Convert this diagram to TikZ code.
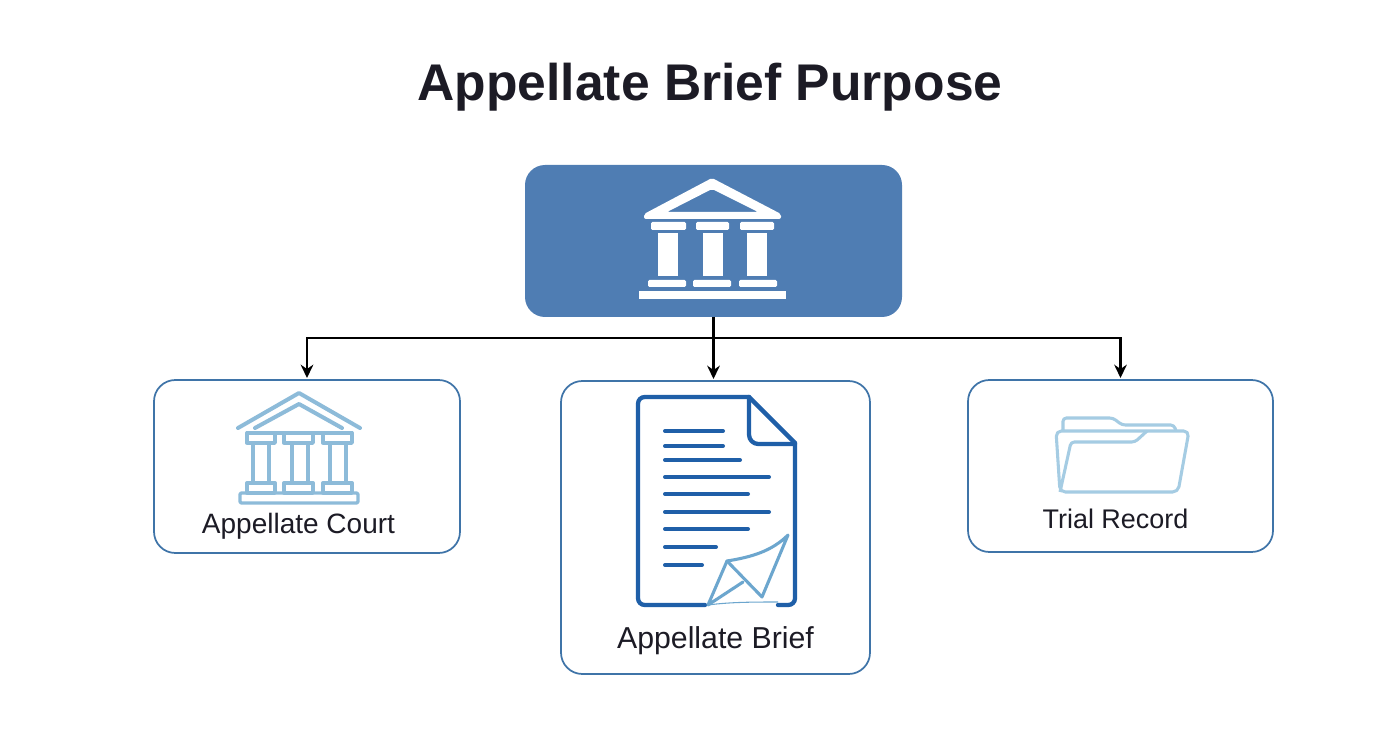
\documentclass[tikz,border=0pt]{standalone}
\usepackage{fontspec}
\setmainfont{Liberation Sans}
\usetikzlibrary{arrows.meta}
\definecolor{titleink}{HTML}{1C1B25}
\definecolor{topblue}{HTML}{4F7DB3}
\definecolor{boxline}{HTML}{3F74A8}
\definecolor{courtblue}{HTML}{8DBBD9}
\definecolor{docblue}{HTML}{1F5FA8}
\definecolor{penblue}{HTML}{6CA6CE}
\definecolor{folderblue}{HTML}{A5CCE3}
\tikzset{
  card/.style={draw=boxline,line width=1.3pt,fill=white,rounded corners=16pt,inner sep=0pt,outer sep=0pt},
  topcard/.style={fill=topblue,rounded corners=15pt,inner sep=0pt,outer sep=0pt},
  label/.style={inner sep=0pt,text=titleink},
  link/.style={line width=1.6pt,black},
  arrowlink/.style={link,-{Stealth[length=10pt,width=9.5pt]},shorten >=1.5pt},
  court/.style={draw=courtblue,line width=2.5pt,line join=round},
  docline/.style={draw=docblue,line width=3pt,line cap=round},
  pen/.style={draw=penblue,line width=2.3pt,line join=round,line cap=round},
  folder/.style={draw=folderblue,line width=2.3pt,line join=round,rounded corners=2.5pt}
}
\begin{document}
\begin{tikzpicture}[x=0.75pt,y=-0.75pt]
\useasboundingbox (0,0) rectangle (1392,752);
\node[inner sep=0pt,font=\fontsize{38.7}{44}\selectfont\bfseries,text=titleink] (title) at (710,87) {Appellate Brief Purpose};
\node[topcard,minimum width=377*0.75pt,minimum height=152*0.75pt] (top) at (713.5,241) {};
\node[card,minimum width=306*0.75pt,minimum height=173*0.75pt] (left) at (307,466.5) {};
\node[card,minimum width=309*0.75pt,minimum height=293*0.75pt] (mid) at (715.5,527.5) {};
\node[card,minimum width=305*0.75pt,minimum height=172*0.75pt] (right) at (1120.5,466) {};
\coordinate (bus) at (713.5,338);
\draw[link] (top.south) -- (bus);
\draw[arrowlink] (bus) -| (left.north);
\draw[arrowlink] (bus) -| (right.north);
\draw[arrowlink] (bus) -- (bus |- mid.north);
% top icon
\fill[white,even odd rule,rounded corners=1.5pt] (712,178) -- (781,214) -- (781,219) -- (644,219) -- (644,214) -- cycle (712,189) -- (667,212) -- (758,212) -- cycle;
\foreach \a/\b in {651/686,696/729,740/774}{\fill[white,rounded corners=1pt] (\a,222) rectangle (\b,230);}
\foreach \a/\b in {658/678,703/723,747/767}{\fill[white] (\a,233) rectangle (\b,276);}
\foreach \a/\b in {648/686,693/731,739/777}{\fill[white,rounded corners=1pt] (\a,280) rectangle (\b,287);}
\fill[white] (639,291) rectangle (786,299);
% court icon
\draw[court,line width=3pt,line cap=round] (238,428) -- (299,393) -- (360,428);
\draw[court,line width=3pt,line cap=round] (255,428) -- (299,404) -- (342,428);
\draw[court] (246,433) -- (353,433);
\foreach \a/\b in {247/275,284/313,323/352}{\draw[court] (\a,433) rectangle (\b,443); \draw[court] (\a,483) rectangle (\b,493);}
\foreach \a/\b in {253/269,292/308,330/346}{\draw[court] (\a,443) -- (\a,483); \draw[court] (\b,443) -- (\b,483);}
\draw[court,rounded corners=1pt] (240,493) rectangle (358,503);
% document icon
\draw[draw=docblue,line width=3.2pt,line join=round,line cap=round,rounded corners=5pt] (705,605) -- (638,605) -- (638,397) -- (749,397);
\draw[draw=docblue,line width=3.2pt,line join=round,line cap=round] (749,397) -- (795,443);
\draw[draw=docblue,line width=3.2pt,line join=round,line cap=round,rounded corners=5pt] (795,443) -- (795,605) -- (778,605);
\draw[draw=docblue,line width=3.2pt,line join=round,line cap=round,rounded corners=7pt] (749,397) -- (749,444) -- (795,444);
\foreach \y/\x in {431/723,446/723,460/740,477/769,494/748,512/769,529/748,547/716,565/702}{\draw[docline] (665,\y) -- (\x,\y);}
\draw[pen] (727,561) .. controls (752,557) and (772,551) .. (788,535) -- (762,597) -- cycle;
\draw[pen] (727,561) -- (708,605) -- (743,582);
\draw[draw=penblue,line width=0.8pt] (708,605) .. controls (730,602) and (755,602) .. (778,602);
% folder icon
\draw[folder] (1063,431) -- (1063,418) -- (1113,418) -- (1122,425) -- (1174,425) -- (1176,431);
\draw[folder,rounded corners=4pt] (1060,492) -- (1056,431) -- (1189,431) -- (1178,492) -- cycle;
\draw[folder] (1060,492) -- (1071,442) -- (1135,442) -- (1147,431);
% labels
\node[label,font=\fontsize{21}{24}\selectfont] (courttext) at (298.5,526) {Appellate Court};
\node[label,font=\fontsize{22.7}{26}\selectfont] (brieftext) at (715.5,641) {Appellate Brief};
\node[label,font=\fontsize{20.2}{24}\selectfont] (recordtext) at (1115.5,518.5) {Trial Record};
\end{tikzpicture}
\end{document}
